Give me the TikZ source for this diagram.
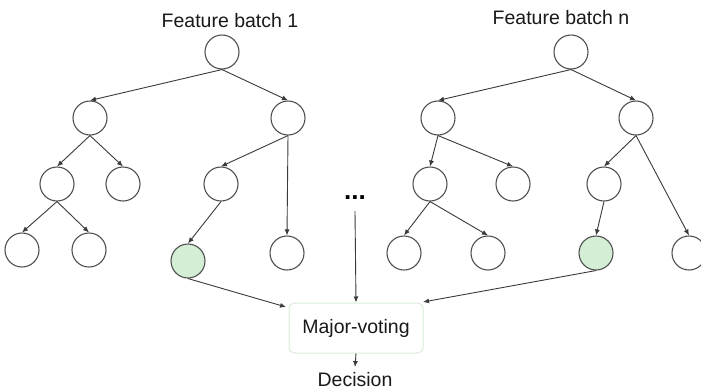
\documentclass[tikz,border=0pt]{standalone}
\usepackage{fontspec}
\setmainfont{Liberation Sans}
\usetikzlibrary{arrows.meta}
\definecolor{edgec}{HTML}{3A3A3A}
\definecolor{nodec}{HTML}{505050}
\definecolor{greenf}{HTML}{D3EED5}
\definecolor{boxc}{HTML}{DCEDDC}
\begin{document}
\begin{tikzpicture}[x=1pt,y=-1pt,
  nd/.style={circle,draw=nodec,line width=1.1pt,minimum size=34pt,inner sep=0pt,fill=white},
  gleaf/.style={nd,fill=greenf},
  ar/.style={draw=edgec,line width=0.9pt,-{Latex[length=6pt,width=5pt]}},
  lbl/.style={font=\fontsize{19.5}{21}\selectfont,inner sep=0pt,anchor=base,text=black!90}]
\clip (0,0) rectangle (701,389);
\fill[white] (0,0) rectangle (701,389);
% titles
\node[lbl] (t1) at (230,27) {Feature batch 1};
\node[lbl] (tn) at (561,24) {Feature batch n};
% left tree
\node[nd] (a0) at (222,52) {};
\node[nd] (a1) at (90,118) {};
\node[nd] (a2) at (288,118) {};
\node[nd] (a3) at (57,184) {};
\node[nd] (a4) at (123,184) {};
\node[nd] (a5) at (221,184) {};
\node[nd] (a6) at (22,250) {};
\node[nd] (a7) at (89,250) {};
\node[gleaf] (a8) at (188,261) {};
\node[nd] (a9) at (287,253) {};
% right tree
\node[nd] (b0) at (571,52) {};
\node[nd] (b1) at (438,118) {};
\node[nd] (b2) at (636,118) {};
\node[nd] (b3) at (430,184) {};
\node[nd] (b4) at (513,184) {};
\node[nd] (b5) at (604,184) {};
\node[nd] (b6) at (404,253) {};
\node[nd] (b7) at (488,253) {};
\node[gleaf] (b8) at (596,253) {};
\node[nd] (b9) at (689,253) {};
% dots, box, decision
\node[font=\fontsize{26}{28}\selectfont\bfseries,inner sep=0pt,anchor=base] (dots) at (355,199) {...};
\node[draw=boxc,line width=1pt,rounded corners=6pt,minimum width=134pt,minimum height=50pt,inner sep=0pt,
      font=\fontsize{19.5}{21}\selectfont,text=black!90] (vote) at (356,328) {Major-voting};
\node[lbl] (dec) at (355,386) {Decision};
\coordinate (decTop) at (355,367);
\coordinate (voteL) at (286,307);
\coordinate (voteR) at (423,302);
% left edges
\draw[ar] (a0.south) -- (a1.north);
\draw[ar] (a0.south) -- (a2.north);
\draw[ar] (a1.south) -- (a3.north);
\draw[ar] (a1.south) -- (a4.north);
\draw[ar] (a2.south) -- (a5.north);
\draw[ar] (a2.south) -- (a9.north);
\draw[ar] (a3.south) -- (a6.north);
\draw[ar] (a3.south) -- (a7.north);
\draw[ar] (a5.south) -- (a8.north);
% right edges
\draw[ar] (b0.south) -- (b1.north);
\draw[ar] (b0.south) -- (b2.north);
\draw[ar] (b1.south) -- (b3.north);
\draw[ar] (b1.south) -- (b4.north);
\draw[ar] (b2.south) -- (b5.north);
\draw[ar] (b2.south) -- (b9.north);
\draw[ar] (b3.south) -- (b6.north);
\draw[ar] (b3.south) -- (b7.north);
\draw[ar] (b5.south) -- (b8.north);
% to voting
\draw[ar] (a8.south) -- (voteL);
\draw[ar] (b8.south) -- (voteR);
\draw[ar] ([yshift=-12pt]dots.south) -- (vote.north);
\draw[ar] (vote.south) -- (decTop);
\end{tikzpicture}
\end{document}
